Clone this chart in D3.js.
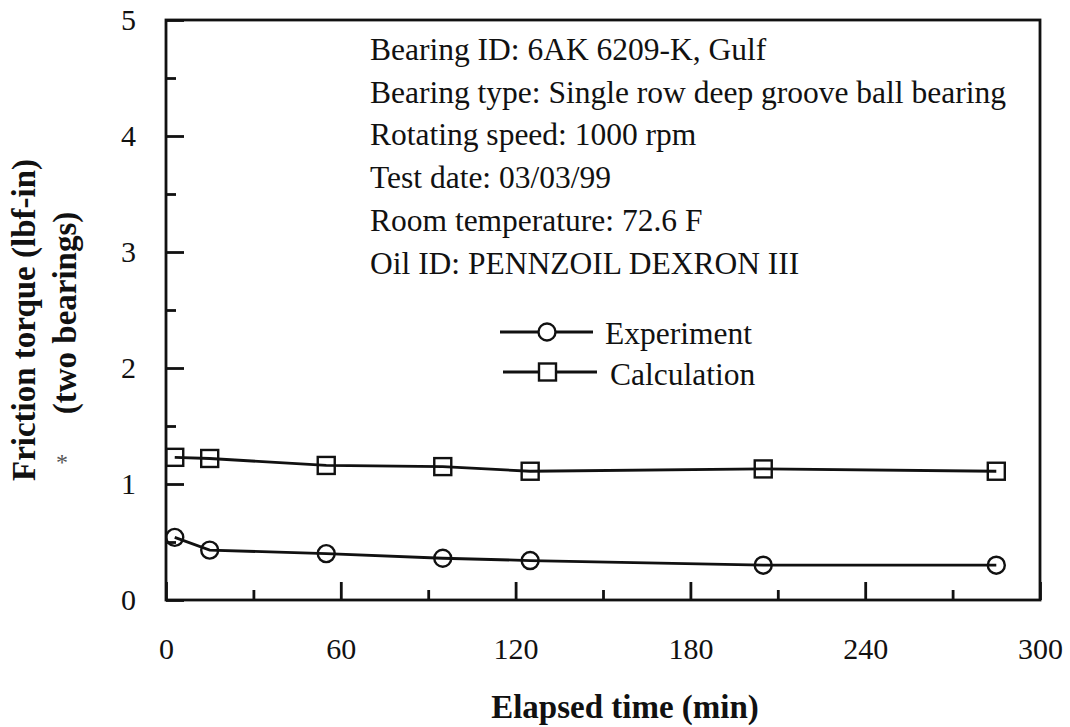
<!DOCTYPE html>
<html><head><meta charset="utf-8">
<script src="https://cdn.jsdelivr.net/npm/d3@7"></script>
<style>
html,body{margin:0;padding:0;background:#fff;}
svg text{font-family:"Liberation Serif","Times New Roman",serif;fill:#111;}
</style></head>
<body>
<svg id="c" width="1070" height="727"></svg>
<script>
const times = [3, 15, 55, 95, 125, 205, 285];
const experiment = [0.54, 0.43, 0.40, 0.36, 0.34, 0.30, 0.30];
const calculation = [1.23, 1.22, 1.16, 1.15, 1.11, 1.13, 1.11];
const xTicks = [0, 60, 120, 180, 240, 300];
const xMinor = [30, 90, 150, 210, 270];
const yTicks = [0, 1, 2, 3, 4, 5];
const yMinor = [0.5, 1.5, 2.5, 3.5, 4.5];
const notes = [
  "Bearing ID: 6AK 6209-K, Gulf",
  "Bearing type: Single row deep groove ball bearing",
  "Rotating speed: 1000 rpm",
  "Test date: 03/03/99",
  "Room temperature: 72.6 F",
  "Oil ID: PENNZOIL DEXRON III"
];
const seriesNames = ["Experiment", "Calculation"];

const svg = d3.select("#c");
const L = 166, R = 1040, T = 20, B = 600;
const x = d3.scaleLinear().domain([0, 300]).range([L, R]);
const y = d3.scaleLinear().domain([0, 5]).range([B, T]);
const ink = "#111";
const sw = 2.8;

// frame
svg.append("rect").attr("x", L).attr("y", T).attr("width", R - L).attr("height", B - T)
  .attr("fill", "none").attr("stroke", ink).attr("stroke-width", sw);

// x axis ticks (inward)
const gx = svg.append("g").attr("transform", `translate(0,${B})`)
  .call(d3.axisBottom(x).tickValues(xTicks).tickSizeInner(-18).tickSizeOuter(0).tickPadding(38).tickFormat(d3.format("d")));
gx.select(".domain").remove();
gx.selectAll("line").attr("stroke", ink).attr("stroke-width", sw);
gx.selectAll("text").attr("font-size", 30).attr("fill", ink);
const gxm = svg.append("g").attr("transform", `translate(0,${B})`)
  .call(d3.axisBottom(x).tickValues(xMinor).tickSizeInner(-10).tickSizeOuter(0).tickFormat(""));
gxm.select(".domain").remove();
gxm.selectAll("line").attr("stroke", ink).attr("stroke-width", sw);

// y axis ticks (inward)
const gy = svg.append("g").attr("transform", `translate(${L},0)`)
  .call(d3.axisLeft(y).tickValues(yTicks).tickSizeInner(-18).tickSizeOuter(0).tickPadding(30).tickFormat(d3.format("d")));
gy.select(".domain").remove();
gy.selectAll("line").attr("stroke", ink).attr("stroke-width", sw);
gy.selectAll("text").attr("font-size", 30).attr("fill", ink);
const gym = svg.append("g").attr("transform", `translate(${L},0)`)
  .call(d3.axisLeft(y).tickValues(yMinor).tickSizeInner(-10).tickSizeOuter(0).tickFormat(""));
gym.select(".domain").remove();
gym.selectAll("line").attr("stroke", ink).attr("stroke-width", sw);

// axis titles
svg.append("text").attr("x", 625).attr("y", 718).attr("text-anchor", "middle")
  .attr("font-size", 33).attr("font-weight", "bold").text("Elapsed time (min)");
svg.append("text").attr("transform", "translate(35,320) rotate(-90)").attr("text-anchor", "middle")
  .attr("font-size", 33).attr("font-weight", "bold").text("Friction torque (lbf-in)");
svg.append("text").attr("transform", "translate(76,313) rotate(-90)").attr("text-anchor", "middle")
  .attr("font-size", 33).attr("font-weight", "bold").text("(two bearings)");
svg.append("text").attr("x", 62).attr("y", 470).attr("text-anchor", "middle")
  .attr("font-size", 24).style("fill", "#555").text("*");

// series
const line = d3.line().x(d => x(d[0])).y(d => y(d[1]));
const expData = times.map((t, i) => [t, experiment[i]]);
const calData = times.map((t, i) => [t, calculation[i]]);
svg.append("path").datum(expData).attr("d", line).attr("fill", "none").attr("stroke", ink).attr("stroke-width", sw);
svg.append("path").datum(calData).attr("d", line).attr("fill", "none").attr("stroke", ink).attr("stroke-width", sw);
svg.selectAll("circle.exp").data(expData).enter().append("circle").attr("class", "exp")
  .attr("cx", d => x(d[0])).attr("cy", d => y(d[1])).attr("r", 8.5)
  .attr("fill", "none").attr("stroke", ink).attr("stroke-width", 2.4);
svg.selectAll("rect.cal").data(calData).enter().append("rect").attr("class", "cal")
  .attr("x", d => x(d[0]) - 8.5).attr("y", d => y(d[1]) - 8.5).attr("width", 17).attr("height", 17)
  .attr("fill", "none").attr("stroke", ink).attr("stroke-width", 2.4);

// annotation
const ann = svg.append("g");
notes.forEach((s, i) => {
  ann.append("text").attr("x", 370).attr("y", 60 + i * 42.7).attr("font-size", 31.5).text(s);
});

// legend
const lg = svg.append("g");
lg.append("line").attr("x1", 500).attr("x2", 593).attr("y1", 332).attr("y2", 332).attr("stroke", ink).attr("stroke-width", sw);
lg.append("circle").attr("cx", 547).attr("cy", 332).attr("r", 8.5).attr("fill", "#fff").attr("stroke", ink).attr("stroke-width", 2.4);
lg.append("text").attr("x", 605).attr("y", 344).attr("font-size", 31.5).text(seriesNames[0]);
lg.append("line").attr("x1", 503).attr("x2", 597).attr("y1", 372).attr("y2", 372).attr("stroke", ink).attr("stroke-width", sw);
lg.append("rect").attr("x", 539).attr("y", 363.5).attr("width", 17).attr("height", 17).attr("fill", "#fff").attr("stroke", ink).attr("stroke-width", 2.4);
lg.append("text").attr("x", 610).attr("y", 385).attr("font-size", 31.5).text(seriesNames[1]);
</script>
</body></html>
